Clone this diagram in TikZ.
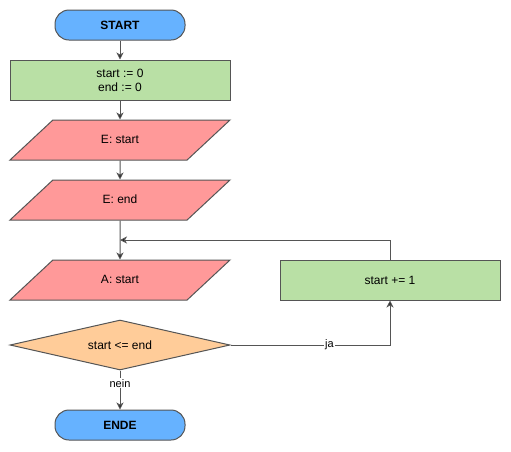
\documentclass[tikz,border=0pt]{standalone}
\usepackage{fontspec}
\setmainfont{Liberation Sans}
\usetikzlibrary{shapes.geometric,arrows.meta}
\definecolor{termblue}{HTML}{66B2FF}
\definecolor{procgreen}{HTML}{B9E0A5}
\definecolor{iored}{HTML}{FF9999}
\definecolor{condorange}{HTML}{FFCC99}
\definecolor{edgegray}{HTML}{555555}
\begin{document}
\begin{tikzpicture}[
    x=1pt, y=-1pt,
    font=\fontsize{12}{14}\selectfont,
    term/.style={rectangle, rounded corners=14pt, fill=termblue, draw=edgegray, line width=1pt, minimum width=130pt, minimum height=30pt, inner sep=0pt, font=\fontsize{12}{14}\selectfont\bfseries},
    proc/.style={rectangle, fill=procgreen, draw=edgegray, line width=1pt, minimum width=220pt, minimum height=40pt, inner sep=0pt, align=center},
    io/.style={trapezium, trapezium left angle=43, trapezium right angle=137, trapezium stretches body, fill=iored, draw=edgegray, line width=1pt, minimum width=220pt, text height=9pt, text depth=3pt, inner xsep=0pt, inner ysep=14pt},
    cond/.style={diamond, aspect=4.4, fill=condorange, draw=edgegray, line width=1pt, minimum width=220pt, minimum height=50pt, inner sep=0pt},
    flow/.style={draw=edgegray, line width=1pt, -{Stealth[length=7pt,width=7pt,inset=2pt,fill=black]}},
    lbl/.style={fill=white, inner sep=1pt, font=\fontsize{11}{13}\selectfont},
]

% Page size
\useasboundingbox (0,0) rectangle (511,451);

% Main column
\node[term] (start) at (120,25) {START};
\node[proc] (init) at (120,80) {start := 0\\end := 0};
\node[io] (inStart) at (120,140) {E: start};
\node[io] (inEnd) at (120,200) {E: end};
\coordinate (join) at (120,240);
\node[io] (outStart) at (120,280) {A: start};
\node[cond] (check) at (120,345) {start <= end};
\node[term] (ende) at (120,425) {ENDE};

% Loop body
\node[proc] (incr) at (390,280) {start += 1};

% Connectors
\draw[flow] (start) -- (init);
\draw[flow] (init) -- (inStart);
\draw[flow] (inStart) -- (inEnd);
\draw[flow] (inEnd) -- (outStart);
\draw[flow] (check.east) -| node[lbl, pos=0.31] {ja} (incr.south);
\draw[flow] (incr.north) |- (join);
\draw[flow] (check.south) -- node[lbl, pos=0.33] {nein} (ende.north);

\end{tikzpicture}
\end{document}
